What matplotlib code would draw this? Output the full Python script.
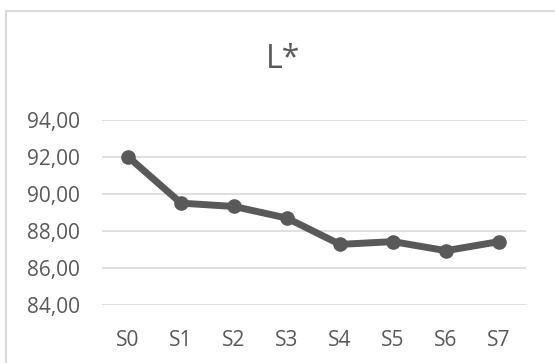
import matplotlib
matplotlib.use("Agg")
import matplotlib.pyplot as plt
from matplotlib.patches import Rectangle
from matplotlib.ticker import FuncFormatter

categories = ["S0", "S1", "S2", "S3", "S4", "S5", "S6", "S7"]
l_star = [92.0, 89.49, 89.31, 88.68, 87.26, 87.41, 86.92, 87.41]
y_ticks = [84, 86, 88, 90, 92, 94]
title = "L*"

plt.rcParams["font.family"] = ["Open Sans", "DejaVu Sans"]

W, H = 555, 363
fig = plt.figure(figsize=(W / 100, H / 100), dpi=100)
fig.patch.set_facecolor("white")

# chart area border
fig.patches.append(Rectangle((5.5 / W, -0.1), 1.2, 1 - 10.5 / H + 0.1,
                             transform=fig.transFigure, fill=False,
                             edgecolor="#d9d9d9", linewidth=1.5))

top, bottom = 119.7, 304.7
ax = fig.add_axes([101.5 / W, 1 - bottom / H, (525.5 - 101.5) / W, (bottom - top) / H])
x = list(range(len(categories)))
ax.plot(x, l_star, color="#595959", linewidth=5, marker="o", markersize=9.5,
        solid_joinstyle="round", zorder=3)

ax.set_xlim(-0.5, len(categories) - 0.5)
ax.set_ylim(84, 94)
ax.set_yticks(y_ticks)
ax.yaxis.set_major_formatter(FuncFormatter(lambda v, p: f"{v:.2f}".replace(".", ",")))
ax.set_xticks(x)
ax.set_xticklabels(categories)
ax.grid(axis="y", color="#d9d9d9", linewidth=1.2)
ax.set_axisbelow(True)
for s in ax.spines.values():
    s.set_visible(False)
ax.tick_params(length=0, labelsize=15, colors="#595959")
ax.tick_params(axis="y", pad=15.5)
ax.tick_params(axis="x", pad=18)

fig.text(283 / W, 1 - 60 / H, title, ha="center", va="center",
         fontsize=23, color="#595959")

fig.savefig("out.png", dpi=100, facecolor="white")
